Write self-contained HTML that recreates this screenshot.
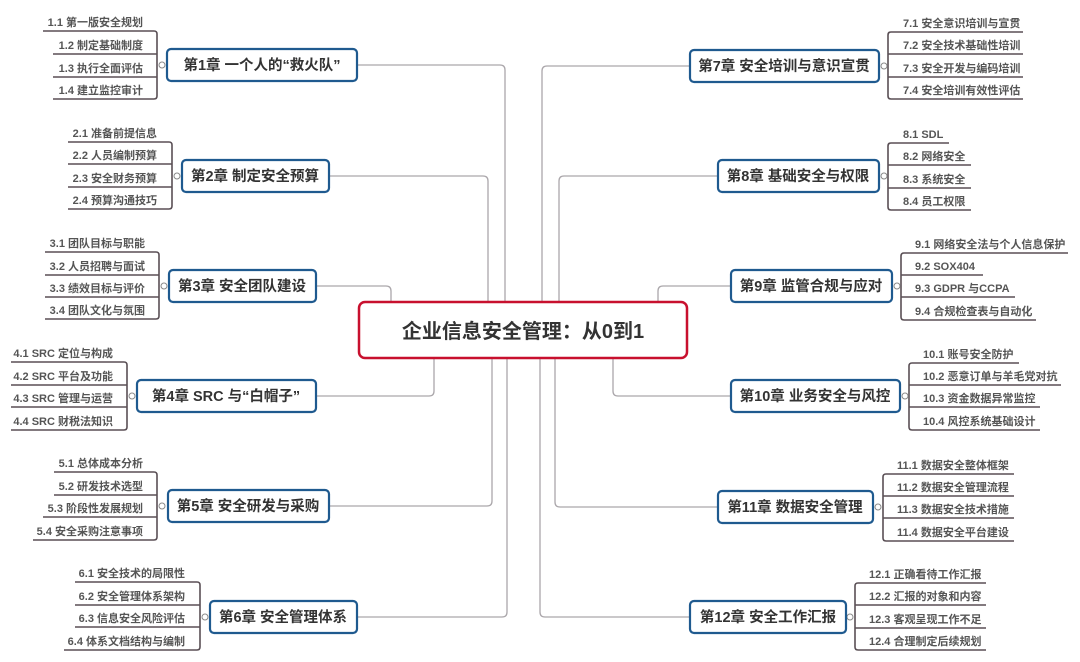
<!DOCTYPE html>
<html><head><meta charset="utf-8"><style>
html,body{margin:0;padding:0;background:#fff;}
svg{display:block;}
.c{fill:none;stroke:#aaa6aa;stroke-width:1.3;}
.b{fill:none;stroke:#5a4f55;stroke-width:1.6;}
.box{fill:#fff;stroke:#1f5a8f;stroke-width:2.2;}
.ct{font-family:"Liberation Sans","Noto Sans CJK SC",sans-serif;font-size:14.5px;font-weight:bold;fill:#333;}
.it{font-family:"Liberation Sans","Noto Sans CJK SC",sans-serif;font-size:11px;fill:#555;font-weight:bold;}
.dot{fill:#fff;stroke:#888;stroke-width:1;}
</style></head><body>
<svg width="1080" height="662" viewBox="0 0 1080 662" xmlns="http://www.w3.org/2000/svg">
<!-- connectors -->
<path class="c" d="M357 65 H500 Q505 65 505 70 V302"/>
<path class="c" d="M329 176 H483 Q488 176 488 181 V302"/>
<path class="c" d="M316 286 H386 Q391 286 391 291 V302"/>
<path class="c" d="M316 396 H429 Q434 396 434 391 V358"/>
<path class="c" d="M329 506 H487 Q492 506 492 501 V358"/>
<path class="c" d="M357 617 H502 Q507 617 507 612 V358"/>
<path class="c" d="M690 66 H547 Q542 66 542 71 V302"/>
<path class="c" d="M718 176 H564 Q559 176 559 181 V302"/>
<path class="c" d="M731 286 H663 Q658 286 658 291 V302"/>
<path class="c" d="M731 396 H618 Q613 396 613 391 V358"/>
<path class="c" d="M718 507 H560 Q555 507 555 502 V358"/>
<path class="c" d="M690 617 H545 Q540 617 540 612 V358"/>

<!-- center -->
<rect x="359" y="302" width="328" height="56" rx="6" fill="#fff" stroke="#c8102e" stroke-width="2.5"/>
<text x="523" y="338" text-anchor="middle" font-family="Liberation Sans,Noto Sans CJK SC,sans-serif" font-size="20" font-weight="bold" fill="#333">企业信息安全管理：从0到1</text>

<!-- LEFT chapters -->
<g>
<path class="b" d="M43 31 H154 Q157 31 157 34 V96 Q157 99 154 99 H53 M53 54 H157 M53 77 H157"/>
<circle class="dot" cx="162" cy="65" r="3"/>
<rect class="box" x="167" y="49" width="190" height="32" rx="4"/>
<text class="ct" x="262" y="70" text-anchor="middle">第1章 一个人的“救火队”</text>
<text class="it" x="143" y="26" text-anchor="end">1.1 第一版安全规划</text>
<text class="it" x="143" y="49" text-anchor="end">1.2 制定基础制度</text>
<text class="it" x="143" y="72" text-anchor="end">1.3 执行全面评估</text>
<text class="it" x="143" y="94" text-anchor="end">1.4 建立监控审计</text>
</g>
<g>
<path class="b" d="M68 142 H169 Q172 142 172 145 V206 Q172 209 169 209 H68 M68 164 H172 M68 187 H172"/>
<circle class="dot" cx="177" cy="176" r="3"/>
<rect class="box" x="182" y="160" width="147" height="32" rx="4"/>
<text class="ct" x="255" y="181" text-anchor="middle">第2章 制定安全预算</text>
<text class="it" x="157" y="137" text-anchor="end">2.1 准备前提信息</text>
<text class="it" x="157" y="159" text-anchor="end">2.2 人员编制预算</text>
<text class="it" x="157" y="182" text-anchor="end">2.3 安全财务预算</text>
<text class="it" x="157" y="204" text-anchor="end">2.4 预算沟通技巧</text>
</g>
<g>
<path class="b" d="M45 252 H156 Q159 252 159 255 V316 Q159 319 156 319 H45 M45 275 H159 M45 297 H159"/>
<circle class="dot" cx="164" cy="286" r="3"/>
<rect class="box" x="169" y="270" width="147" height="32" rx="4"/>
<text class="ct" x="242" y="291" text-anchor="middle">第3章 安全团队建设</text>
<text class="it" x="145" y="247" text-anchor="end">3.1 团队目标与职能</text>
<text class="it" x="145" y="270" text-anchor="end">3.2 人员招聘与面试</text>
<text class="it" x="145" y="292" text-anchor="end">3.3 绩效目标与评价</text>
<text class="it" x="145" y="314" text-anchor="end">3.4 团队文化与氛围</text>
</g>
<g>
<path class="b" d="M11 362 H124 Q127 362 127 365 V427 Q127 430 124 430 H11 M11 385 H127 M11 407 H127"/>
<circle class="dot" cx="132" cy="396" r="3"/>
<rect class="box" x="137" y="380" width="179" height="32" rx="4"/>
<text class="ct" x="226" y="401" text-anchor="middle">第4章 SRC 与“白帽子”</text>
<text class="it" x="113" y="357" text-anchor="end">4.1 SRC 定位与构成</text>
<text class="it" x="113" y="380" text-anchor="end">4.2 SRC 平台及功能</text>
<text class="it" x="113" y="402" text-anchor="end">4.3 SRC 管理与运营</text>
<text class="it" x="113" y="425" text-anchor="end">4.4 SRC 财税法知识</text>
</g>
<g>
<path class="b" d="M54 472 H154 Q157 472 157 475 V537 Q157 540 154 540 H33 M54 495 H157 M43 517 H157"/>
<circle class="dot" cx="162" cy="506" r="3"/>
<rect class="box" x="168" y="490" width="161" height="32" rx="4"/>
<text class="ct" x="248" y="511" text-anchor="middle">第5章 安全研发与采购</text>
<text class="it" x="143" y="467" text-anchor="end">5.1 总体成本分析</text>
<text class="it" x="143" y="490" text-anchor="end">5.2 研发技术选型</text>
<text class="it" x="143" y="512" text-anchor="end">5.3 阶段性发展规划</text>
<text class="it" x="143" y="535" text-anchor="end">5.4 安全采购注意事项</text>
</g>
<g>
<path class="b" d="M75 582 H197 Q200 582 200 585 V647 Q200 650 197 650 H64 M75 605 H200 M75 627 H200"/>
<circle class="dot" cx="205" cy="617" r="3"/>
<rect class="box" x="210" y="601" width="147" height="32" rx="4"/>
<text class="ct" x="283" y="622" text-anchor="middle">第6章 安全管理体系</text>
<text class="it" x="185" y="577" text-anchor="end">6.1 安全技术的局限性</text>
<text class="it" x="185" y="600" text-anchor="end">6.2 安全管理体系架构</text>
<text class="it" x="185" y="622" text-anchor="end">6.3 信息安全风险评估</text>
<text class="it" x="185" y="645" text-anchor="end">6.4 体系文档结构与编制</text>
</g>

<!-- RIGHT chapters -->
<g>
<path class="b" d="M1023 32 H891 Q888 32 888 35 V96 Q888 99 891 99 H1023 M888 54 H1023 M888 77 H1023"/>
<circle class="dot" cx="884" cy="66" r="3"/>
<rect class="box" x="690" y="50" width="189" height="32" rx="4"/>
<text class="ct" x="784" y="71" text-anchor="middle">第7章 安全培训与意识宣贯</text>
<text class="it" x="903" y="27">7.1 安全意识培训与宣贯</text>
<text class="it" x="903" y="49">7.2 安全技术基础性培训</text>
<text class="it" x="903" y="72">7.3 安全开发与编码培训</text>
<text class="it" x="903" y="94">7.4 安全培训有效性评估</text>
</g>
<g>
<path class="b" d="M949 143 H891 Q888 143 888 146 V207 Q888 210 891 210 H971 M888 165 H971 M888 188 H971"/>
<circle class="dot" cx="884" cy="176" r="3"/>
<rect class="box" x="718" y="160" width="161" height="32" rx="4"/>
<text class="ct" x="798" y="181" text-anchor="middle">第8章 基础安全与权限</text>
<text class="it" x="903" y="138">8.1 SDL</text>
<text class="it" x="903" y="160">8.2 网络安全</text>
<text class="it" x="903" y="183">8.3 系统安全</text>
<text class="it" x="903" y="205">8.4 员工权限</text>
</g>
<g>
<path class="b" d="M1068 253 H904 Q901 253 901 256 V317 Q901 320 904 320 H1036 M901 275 H983 M901 297 H1015"/>
<circle class="dot" cx="897" cy="286" r="3"/>
<rect class="box" x="731" y="270" width="161" height="32" rx="4"/>
<text class="ct" x="811" y="291" text-anchor="middle">第9章 监管合规与应对</text>
<text class="it" x="915" y="248">9.1 网络安全法与个人信息保护</text>
<text class="it" x="915" y="270">9.2 SOX404</text>
<text class="it" x="915" y="292">9.3 GDPR 与CCPA</text>
<text class="it" x="915" y="315">9.4 合规检查表与自动化</text>
</g>
<g>
<path class="b" d="M1019 363 H912 Q909 363 909 366 V427 Q909 430 912 430 H1040 M909 385 H1061 M909 407 H1040"/>
<circle class="dot" cx="905" cy="396" r="3"/>
<rect class="box" x="731" y="380" width="169" height="32" rx="4"/>
<text class="ct" x="815" y="401" text-anchor="middle">第10章 业务安全与风控</text>
<text class="it" x="923" y="358">10.1 账号安全防护</text>
<text class="it" x="923" y="380">10.2 恶意订单与羊毛党对抗</text>
<text class="it" x="923" y="402">10.3 资金数据异常监控</text>
<text class="it" x="923" y="425">10.4 风控系统基础设计</text>
</g>
<g>
<path class="b" d="M1014 474 H886 Q883 474 883 477 V538 Q883 541 886 541 H1014 M883 496 H1014 M883 518 H1014"/>
<circle class="dot" cx="878" cy="507" r="3"/>
<rect class="box" x="718" y="491" width="155" height="32" rx="4"/>
<text class="ct" x="795" y="512" text-anchor="middle">第11章 数据安全管理</text>
<text class="it" x="897" y="469">11.1 数据安全整体框架</text>
<text class="it" x="897" y="491">11.2 数据安全管理流程</text>
<text class="it" x="897" y="513">11.3 数据安全技术措施</text>
<text class="it" x="897" y="536">11.4 数据安全平台建设</text>
</g>
<g>
<path class="b" d="M986 583 H858 Q855 583 855 586 V647 Q855 650 858 650 H986 M855 605 H986 M855 628 H986"/>
<circle class="dot" cx="850" cy="617" r="3"/>
<rect class="box" x="690" y="601" width="156" height="32" rx="4"/>
<text class="ct" x="768" y="622" text-anchor="middle">第12章 安全工作汇报</text>
<text class="it" x="869" y="578">12.1 正确看待工作汇报</text>
<text class="it" x="869" y="600">12.2 汇报的对象和内容</text>
<text class="it" x="869" y="623">12.3 客观呈现工作不足</text>
<text class="it" x="869" y="645">12.4 合理制定后续规划</text>
</g>
</svg>
</body></html>
